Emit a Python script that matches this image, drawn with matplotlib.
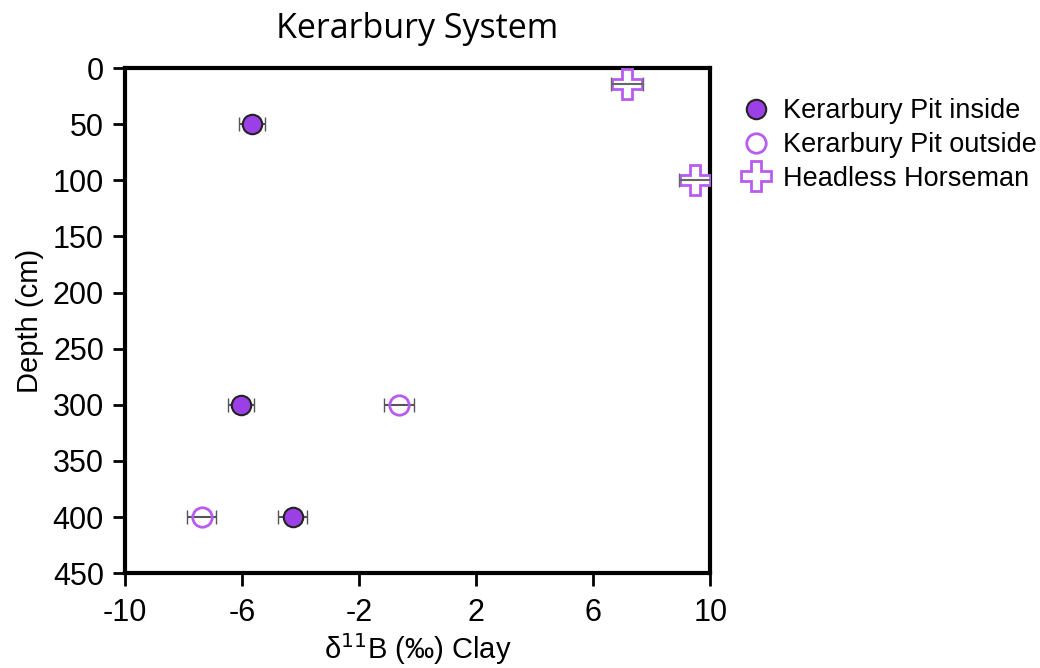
import numpy as np
import matplotlib.pyplot as plt

plt.rcParams['font.family'] = ['Liberation Sans', 'DejaVu Sans']
plt.rcParams['axes.unicode_minus'] = False

# delta 11B (permil) and depth (cm)
inside_x = [-5.66, -6.03, -4.26]
inside_y = [50, 300, 400]
inside_err = [0.45, 0.45, 0.5]

outside_x = [-0.63, -7.37]
outside_y = [300, 400]
outside_err = [0.5, 0.5]

horse_x = [7.16, 9.49]
horse_y = [14, 100]
horse_err = [0.55, 0.55]

purple = '#9b3fe6'
light = '#b85cf0'

fig = plt.figure(figsize=(10.4, 6.68), dpi=100)
ax = fig.add_axes([0.120, 0.142, 0.563, 0.756])

ax.errorbar(inside_x, inside_y, xerr=inside_err, fmt='none', ecolor='#555555',
            elinewidth=1.5, capsize=5, zorder=2)
ax.errorbar(outside_x, outside_y, xerr=outside_err, fmt='none', ecolor='#555555',
            elinewidth=1.5, capsize=5, zorder=2)

ax.plot(inside_x, inside_y, 'o', ms=14, mfc=purple, mec='#222222', mew=1.5,
        ls='none', label='Kerarbury Pit inside', zorder=3)
ax.plot(outside_x, outside_y, 'o', ms=14, mfc='none', mec=light, mew=2,
        ls='none', label='Kerarbury Pit outside', zorder=3)
ax.plot(horse_x, horse_y, 'P', ms=22, mfc='white', mec=light, mew=2,
        ls='none', label='Headless Horseman', zorder=3)
ax.errorbar(horse_x, horse_y, xerr=horse_err, fmt='none', ecolor='#666666',
            elinewidth=1.5, capsize=5, zorder=4)

ax.set_xlim(-10, 10)
ax.set_ylim(450, 0)
xt = [-10, -6, -2, 2, 6, 10]
ax.set_xticks(xt)
ax.set_xticklabels([str(v) for v in xt])
ax.set_yticks(np.arange(0, 451, 50))
ax.tick_params(labelsize=22, width=2, length=9, direction='out')
ax.tick_params(axis='x', pad=9)
ax.tick_params(axis='y', pad=6)
for s in ax.spines.values():
    s.set_linewidth(3)

ax.set_xlabel(r'δ$^{11}$B (‰) Clay', fontsize=21, labelpad=2)
ax.set_ylabel('Depth (cm)', fontsize=21, labelpad=6)
ax.set_title('Kerarbury System', fontsize=24.5, family='Open Sans', pad=22)

leg = ax.legend(loc='upper left', bbox_to_anchor=(1.055, 0.94), frameon=False,
                fontsize=19.5, handletextpad=0.5, labelspacing=0.28,
                handlelength=1.0, borderaxespad=0, borderpad=0)

fig.savefig('out.png', dpi=100)
